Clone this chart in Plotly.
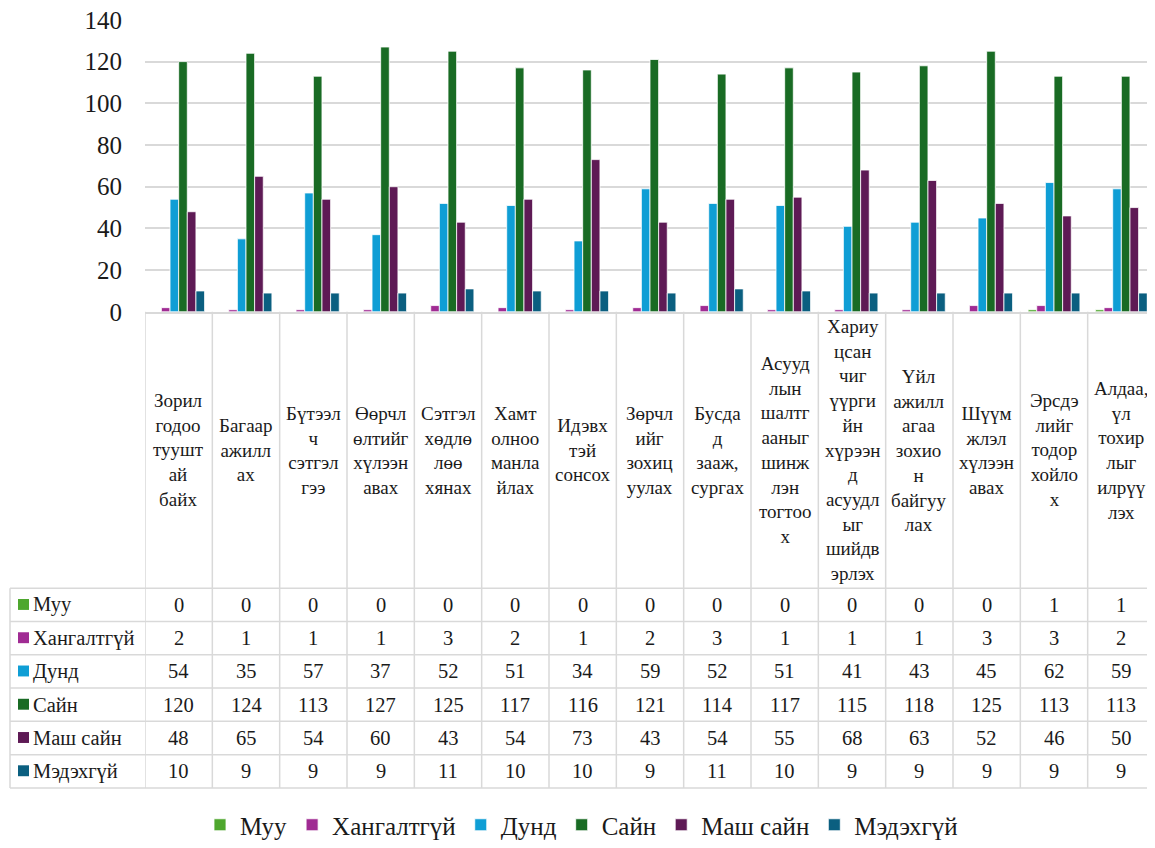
import plotly.graph_objects as go

# page has an 8px body margin; figure coordinates are page coordinates minus OFF
OFF = 8
W, H = 1155 - OFF, 848 - OFF

categories = [
    "Зорил<br>годоо<br>туушт<br>ай<br>байх",
    "Багаар<br>ажилл<br>ах",
    "Бүтээл<br>ч<br>сэтгэл<br>гээ",
    "Өөрчл<br>өлтийг<br>хүлээн<br>авах",
    "Сэтгэл<br>хөдлө<br>лөө<br>хянах",
    "Хамт<br>олноо<br>манла<br>йлах",
    "Идэвх<br>тэй<br>сонсох",
    "Зөрчл<br>ийг<br>зохиц<br>уулах",
    "Бусда<br>д<br>зааж,<br>сургах",
    "Асууд<br>лын<br>шалтг<br>ааныг<br>шинж<br>лэн<br>тогтоо<br>х",
    "Хариу<br>цсан<br>чиг<br>үүрги<br>йн<br>хүрээн<br>д<br>асуудл<br>ыг<br>шийдв<br>эрлэх",
    "Үйл<br>ажилл<br>агаа<br>зохио<br>н<br>байгуу<br>лах",
    "Шүүм<br>жлэл<br>хүлээн<br>авах",
    "Эрсдэ<br>лийг<br>тодор<br>хойло<br>х",
    "Алдаа,<br>үл<br>тохир<br>лыг<br>илрүү<br>лэх",
]

series_names = ["Муу", "Хангалтгүй", "Дунд", "Сайн", "Маш сайн", "Мэдэхгүй"]
muu = [0, 0, 0, 0, 0, 0, 0, 0, 0, 0, 0, 0, 0, 1, 1]
khangaltgui = [2, 1, 1, 1, 3, 2, 1, 2, 3, 1, 1, 1, 3, 3, 2]
dund = [54, 35, 57, 37, 52, 51, 34, 59, 52, 51, 41, 43, 45, 62, 59]
sain = [120, 124, 113, 127, 125, 117, 116, 121, 114, 117, 115, 118, 125, 113, 113]
mash_sain = [48, 65, 54, 60, 43, 54, 73, 43, 54, 55, 68, 63, 52, 46, 50]
medekhgui = [10, 9, 9, 9, 11, 10, 10, 9, 11, 10, 9, 9, 9, 9, 9]
series_values = [muu, khangaltgui, dund, sain, mash_sain, medekhgui]
colors = ["#4EA72E", "#A02B93", "#0F9ED5", "#196B24", "#5E1A55", "#0B5F80"]

y_ticks = [0, 20, 40, 60, 80, 100, 120, 140]

FONT = "Liberation Serif"
GRID = "#d9d9d9"
TEXT = "#1a1a1a"

def py(p):
    return 1 - (p - OFF) / H

def px(p):
    return (p - OFF) / W

PLOT_L, PLOT_TOP, AXIS_Y = 145, 20, 314
HEADER_BOTTOM = 592.5
ROW_H = 33.5
TABLE_LEFT = 10
n = len(categories)
table_bottom = HEADER_BOTTOM + ROW_H * len(series_names)

fig = go.Figure()
for name, vals, col in zip(series_names, series_values, colors):
    fig.add_trace(go.Bar(
        x=categories, y=vals, name=name,
        marker=dict(color=col, line=dict(color="white", width=0.8)),
    ))

shapes = []
for i in range(n + 1):
    shapes.append(dict(type="line", xref="x", yref="paper",
                       x0=i - 0.5, x1=i - 0.5, y0=py(AXIS_Y), y1=py(table_bottom),
                       line=dict(color=GRID, width=1.5)))
shapes.append(dict(type="line", xref="paper", yref="paper",
                   x0=px(TABLE_LEFT), x1=px(TABLE_LEFT),
                   y0=py(HEADER_BOTTOM), y1=py(table_bottom),
                   line=dict(color=GRID, width=1.5)))
for r in range(len(series_names) + 1):
    yy = HEADER_BOTTOM + r * ROW_H
    shapes.append(dict(type="line", xref="paper", yref="paper",
                       x0=px(TABLE_LEFT), x1=1, y0=py(yy), y1=py(yy),
                       line=dict(color=GRID, width=1.5)))

annotations = []
header_mid = (AXIS_Y + HEADER_BOTTOM) / 2
for i, cat in enumerate(categories):
    annotations.append(dict(x=i, xref="x", y=py(header_mid), yref="paper",
                            text=cat, showarrow=False, xanchor="center", yanchor="middle",
                            font=dict(family=FONT, size=19, color=TEXT)))
for r, (name, vals, col) in enumerate(zip(series_names, series_values, colors)):
    yc = HEADER_BOTTOM + (r + 0.5) * ROW_H
    shapes.append(dict(type="rect", xref="paper", yref="paper",
                       x0=px(18), x1=px(29), y0=py(yc - 6), y1=py(yc + 5),
                       fillcolor=col, line=dict(width=0)))
    annotations.append(dict(x=px(31), xref="paper", y=py(yc), yref="paper",
                            text=name, showarrow=False, xanchor="left", yanchor="middle",
                            font=dict(family=FONT, size=20.5, color=TEXT)))
    for i, v in enumerate(vals):
        annotations.append(dict(x=i, xref="x", y=py(yc), yref="paper",
                                text=str(v), showarrow=False, xanchor="center", yanchor="middle",
                                font=dict(family=FONT, size=20.5, color=TEXT)))

fig.update_layout(
    width=W, height=H,
    margin=dict(l=0, r=0, t=0, b=0),
    paper_bgcolor="white", plot_bgcolor="white",
    barmode="group", bargap=0.23, bargroupgap=0,
    font=dict(family=FONT, color=TEXT),
    shapes=shapes, annotations=annotations,
    showlegend=True,
    legend=dict(orientation="h", x=0.5, xanchor="center", y=py(831), yanchor="middle",
                font=dict(family=FONT, size=25, color=TEXT), itemwidth=30,
                tracegroupgap=0),
    xaxis=dict(domain=[px(PLOT_L), 1], range=[-0.5, n - 0.5], showticklabels=False,
               showgrid=False, showline=True, linecolor=GRID, linewidth=1.5,
               zeroline=False, fixedrange=True, automargin=False),
    yaxis=dict(domain=[py(AXIS_Y), py(PLOT_TOP)], range=[0, 140], tickvals=y_ticks,
               showgrid=True, gridcolor=GRID, gridwidth=1.5, zeroline=False,
               showline=False, ticklabelstandoff=22, ticklabeloverflow="allow",
               tickfont=dict(family=FONT, size=25, color=TEXT), automargin=False),
)

fig.write_html("out.html")
